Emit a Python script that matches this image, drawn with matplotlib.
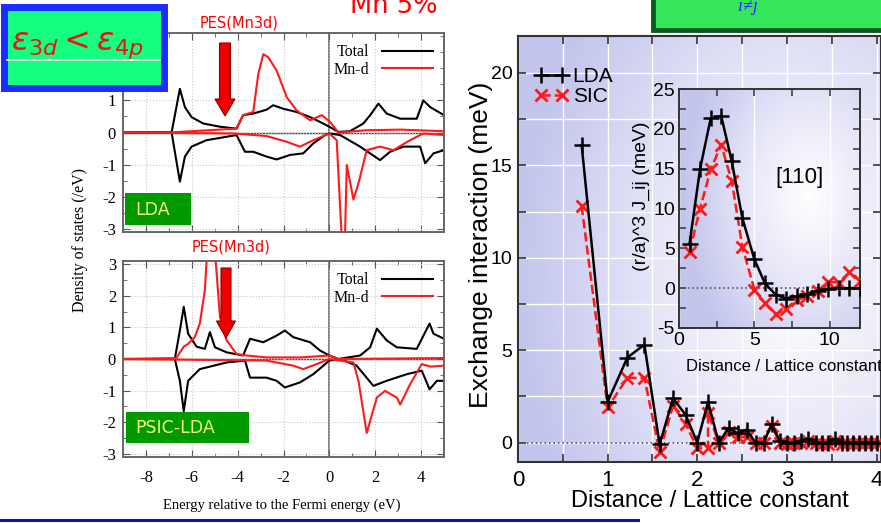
import numpy as np
import matplotlib.pyplot as plt
from matplotlib.patches import Rectangle, FancyArrow
from matplotlib.colors import LinearSegmentedColormap
from matplotlib.ticker import MultipleLocator

plt.rcParams['axes.unicode_minus'] = False

# ---------------- DOS, LDA panel (energy eV, DOS /eV) ----------------
lda_tot_up_e = [-9, -6.88, -6.52, -6.30, -6.01, -5.50, -4.77, -4.05, -3.76, -3.32, -2.74, -2.45, -2.01,
                -1.43, -0.84, -0.41, 0.0, 0.39, 0.90, 1.48, 1.78, 2.14, 2.50, 3.09, 3.81, 4.10, 4.40, 5.0]
lda_tot_up = [0, 0, 1.36, 0.79, 0.48, 0.28, 0.18, 0.12, 0.54, 0.59, 0.71, 0.85, 0.74,
              0.64, 0.48, 0.33, 0.18, 0.02, 0.04, 0.28, 0.54, 0.90, 0.59, 0.43, 0.43, 1.0, 0.79, 0.54]
lda_tot_dn_e = [-9, -6.88, -6.52, -6.30, -6.01, -5.36, -4.05, -3.68, -3.32, -2.74, -2.30, -1.72, -1.14,
                -0.70, -0.19, 0.0, 0.47, 1.34, 2.21, 2.65, 3.23, 3.96, 4.18, 4.54, 5.0]
lda_tot_dn = [0, 0, -1.53, -0.75, -0.44, -0.24, -0.08, -0.60, -0.60, -0.75, -0.84, -0.70, -0.65,
              -0.34, -0.08, -0.03, -0.08, -0.44, -0.86, -0.60, -0.44, -0.44, -0.96, -0.65, -0.55]
lda_mnd_up_e = [-9, -6.9, -6.5, -4.05, -3.76, -3.32, -3.10, -2.88, -2.66, -2.30, -1.86, -1.43, -0.84,
                -0.33, 0.03, 0.39, 1.63, 3.09, 5.0]
lda_mnd_up = [0, 0, 0.02, 0.12, 0.54, 0.64, 1.82, 2.44, 2.34, 1.93, 1.10, 0.69, 0.38,
              0.54, 0.33, 0.0, 0.07, 0.09, 0.04]
lda_mnd_dn_e = [-9, -4.19, -2.74, -1.86, -1.28, -0.70, 0.0, 0.32, 0.54, 0.68, 0.76, 1.05, 1.27, 1.63,
                2.21, 2.79, 3.52, 4.10, 5.0]
lda_mnd_dn = [0, -0.03, -0.11, -0.29, -0.44, -0.24, -0.03, -0.24, -3.3, -3.3, -1.01, -2.09, -1.58, -0.55,
              -0.44, -0.55, -0.24, -0.03, -0.08]

# ---------------- DOS, PSIC-LDA panel ----------------
psic_tot_up_e = [-9, -6.74, -6.52, -6.35, -6.16, -5.79, -5.43, -5.21, -4.99, -4.48, -3.76, -3.46, -2.88,
                 -2.30, -1.94, -1.57, -0.84, -0.41, 0.0, 0.39, 1.34, 1.78, 2.07, 2.50, 2.94, 3.81, 4.37, 4.54, 5.0]
psic_tot_up = [0, 0, 0.90, 1.65, 0.80, 0.39, 0.32, 0.85, 0.37, 0.21, 0.11, 0.64, 0.53,
               0.74, 0.90, 0.69, 0.53, 0.27, 0.11, 0.0, 0.11, 0.37, 0.96, 0.59, 0.37, 0.32, 1.12, 0.80, 0.64]
psic_tot_dn_e = [-9, -6.74, -6.52, -6.35, -6.16, -5.65, -4.48, -3.68, -3.46, -2.74, -2.30, -1.94, -1.28,
                 -0.70, 0.0, 0.47, 1.19, 1.92, 2.50, 3.38, 4.03, 4.37, 4.69, 5.0]
psic_tot_dn = [0, 0, -0.69, -1.65, -0.69, -0.32, -0.11, -0.05, -0.59, -0.59, -0.69, -0.90, -0.74,
               -0.48, -0.05, 0.0, -0.21, -0.85, -0.69, -0.48, -0.37, -0.96, -0.69, -0.69]
psic_mnd_up_e = [-9, -6.67, -6.35, -6.16, -5.87, -5.65, -5.43, -5.33, -4.99, -4.77, -4.48, -4.05, -3.61,
                 -2.74, -1.28, 0.0, 0.39, 5.0]
psic_mnd_up = [0, 0.03, 0.39, 0.48, 0.69, 1.12, 2.18, 3.4, 3.4, 1.33, 0.59, 0.16, 0.11,
               0.05, 0.05, 0.11, 0.0, 0.03]
psic_mnd_dn_e = [-9, -2.74, -1.57, -1.14, -0.55, 0.0, 1.05, 1.27, 1.63, 2.07, 2.43, 2.94, 3.09, 3.52,
                 4.03, 4.40, 5.0]
psic_mnd_dn = [0, -0.05, -0.21, -0.32, -0.16, 0.0, -0.11, -0.69, -2.34, -1.22, -1.01, -1.22, -1.44, -0.80,
               -0.16, -0.24, -0.21]

# ---------------- exchange interaction vs distance ----------------
dist_lda = [0.71, 1.0, 1.22, 1.41, 1.58, 1.73, 1.87, 2.0, 2.12, 2.24, 2.35, 2.45, 2.55, 2.65, 2.74, 2.83,
            2.92, 3.0, 3.08, 3.16, 3.24, 3.32, 3.39, 3.46, 3.54, 3.61, 3.67, 3.74, 3.81, 3.87, 3.94, 4.0]
j_lda = [16.1, 2.2, 4.6, 5.3, -0.1, 2.4, 1.5, 0.0, 2.2, 0.0, 0.8, 0.5, 0.7, 0.0, 0.0, 1.0,
         0.1, 0.0, 0.0, 0.1, 0.2, 0.0, 0.0, 0.0, 0.2, 0.0, 0.0, 0.0, 0.0, 0.0, 0.0, 0.0]
dist_sic = [0.71, 1.0, 1.22, 1.41, 1.58, 1.73, 1.87, 2.0, 2.12, 2.12, 2.24, 2.35, 2.45, 2.55, 2.65, 2.74,
            2.83, 2.92, 3.0, 3.08, 3.16, 3.24, 3.32, 3.39, 3.46, 3.54, 3.61, 3.67, 3.74, 3.81, 3.87, 3.94, 4.0]
j_sic = [12.8, 1.9, 3.5, 3.5, -0.5, 2.0, 1.0, -0.3, -0.3, 1.6, 0.0, 0.6, 0.3, 0.3, 0.0, 0.0,
         0.9, 0.0, -0.1, 0.0, 0.0, 0.1, 0.0, -0.1, -0.1, 0.1, -0.1, 0.0, -0.1, 0.0, 0.0, 0.0, 0.0]

# inset: (r/a)^3 J_ij along [110]
dist_110 = [0.7, 1.4, 2.1, 2.8, 3.5, 4.2, 5.0, 5.7, 6.4, 7.1, 7.8, 8.5, 9.2, 9.9, 10.6, 11.3, 12.0]
jr3_lda = [5.6, 15.0, 21.3, 21.6, 15.9, 8.8, 3.6, 0.6, -0.8, -1.3, -1.0, -0.7, -0.3, -0.1, 0.0, 0.0, 0.0]
jr3_sic = [4.6, 10.0, 14.9, 18.0, 13.4, 5.2, -0.2, -1.9, -3.3, -2.6, -1.5, -1.0, -0.3, 0.8, 0.7, 2.0, 0.9]

W, H = 881, 523
fig = plt.figure(figsize=(W / 100, H / 100), dpi=100)

def px(l, t, r, b):
    return [l / W, 1 - b / H, (r - l) / W, (b - t) / H]

red = '#ff1a1a'

def style_dos(ax, labels):
    ax.set_xlim(-9, 5)
    ax.set_ylim(-3.1, 3.1)
    ax.xaxis.set_major_locator(MultipleLocator(2))
    ax.xaxis.set_minor_locator(MultipleLocator(1))
    ax.yaxis.set_major_locator(MultipleLocator(1))
    ax.yaxis.set_minor_locator(MultipleLocator(0.5))
    ax.grid(True, which='major', color='#c8c8c8', ls=':', lw=0.8)
    ax.tick_params(which='both', direction='in', top=True, right=True, color='#555555',
                   labelsize=12, labelbottom=labels, pad=5)
    ax.tick_params(axis='x', pad=9)
    ax.tick_params(which='major', length=5)
    ax.tick_params(which='minor', length=3)
    for s in ax.spines.values():
        s.set_color('#666666')
        s.set_linewidth(1.4)
    for t in ax.get_xticklabels() + ax.get_yticklabels():
        t.set_family('Liberation Serif')
    ax.axvline(0, color='#777777', lw=1.3, zorder=1)
    ax.axhline(0, color='#444444', lw=1.0, zorder=1)

ax1 = fig.add_axes(px(123, 33, 444, 232))
ax1.plot(lda_tot_up_e, lda_tot_up, color='black', lw=1.5, label='Total')
ax1.plot(lda_tot_dn_e, lda_tot_dn, color='black', lw=1.5)
ax1.plot(lda_mnd_up_e, lda_mnd_up, color=red, lw=1.5, label='Mn-d')
ax1.plot(lda_mnd_dn_e, lda_mnd_dn, color=red, lw=1.5)
style_dos(ax1, False)
# labels 2 and 3 sit under the title box on the slide
ax1.set_yticks([-3, -2, -1, 0, 1])
ax1.yaxis.set_minor_locator(MultipleLocator(0.5))
for t in ax1.get_yticklabels():
    t.set_family('Liberation Serif')
ax1.tick_params(axis='y', which='major', right=True)
ax1.legend(loc='upper right', frameon=False, markerfirst=False, handlelength=3.2,
           prop={'family': 'Liberation Serif', 'size': 11.5}, labelspacing=0.1,
           borderaxespad=0.3, handletextpad=0.8)

ax2 = fig.add_axes(px(123, 261, 444, 457))
ax2.plot(psic_tot_up_e, psic_tot_up, color='black', lw=1.5, label='Total')
ax2.plot(psic_tot_dn_e, psic_tot_dn, color='black', lw=1.5)
ax2.plot(psic_mnd_up_e, psic_mnd_up, color=red, lw=1.5, label='Mn-d')
ax2.plot(psic_mnd_dn_e, psic_mnd_dn, color=red, lw=1.5)
style_dos(ax2, True)
ax2.legend(loc='upper right', frameon=False, markerfirst=False, handlelength=3.2,
           prop={'family': 'Liberation Serif', 'size': 11.5}, labelspacing=0.1,
           borderaxespad=0.3, handletextpad=0.8)

fig.text(80 / W, 1 - 240 / H, 'Density of states (/eV)', rotation=90, ha='center', va='center',
         family='Liberation Serif', fontsize=11.5)
fig.text(282 / W, 1 - 505 / H, 'Energy relative to the Fermi energy (eV)', ha='center', va='center',
         family='Liberation Serif', fontsize=10.5)

# lavender gradient background
cmap = LinearSegmentedColormap.from_list('lav', ['#ffffff', '#e6e6f8', '#c3c5ec'])

def gradient_bg(ax, cx, cy, rx, ry):
    yy, xx = np.mgrid[0:1:200j, 0:1:200j]
    r = np.sqrt(((xx - cx) / rx) ** 2 + ((yy - cy) / ry) ** 2)
    ax.imshow(np.clip(r, 0, 1), extent=[0, 1, 0, 1], transform=ax.transAxes, origin='lower',
              cmap=cmap, vmin=0, vmax=1, aspect='auto', zorder=0, interpolation='bilinear')

sans = 'Liberation Sans'

ax3 = fig.add_axes(px(518, 36, 881, 462))
gradient_bg(ax3, 0.75, 0.45, 0.75, 0.9)
ax3.axhline(0, color='#555555', ls=':', lw=1.2, zorder=2)
ax3.plot(dist_sic, j_sic, color=red, ls='--', lw=1.8, marker='x', ms=8, mew=2, label='SIC', zorder=3)
ax3.plot(dist_lda, j_lda, color='black', lw=1.8, marker='+', ms=11, mew=1.8, label='LDA', zorder=4)
ax3.set_xlim(0, 4.05)
ax3.set_ylim(-1.05, 22)
ax3.xaxis.set_major_locator(MultipleLocator(1))
ax3.xaxis.set_minor_locator(MultipleLocator(0.5))
ax3.yaxis.set_major_locator(MultipleLocator(5))
ax3.yaxis.set_minor_locator(MultipleLocator(2.5))
ax3.grid(True, which='both', color='white', lw=1.0, zorder=1)
ax3.set_axisbelow(True)
ax3.tick_params(which='both', direction='in', top=True, right=True, color='#333333', length=6, width=1.2)
ax3.tick_params(axis='x', labelsize=16, pad=6)
ax3.tick_params(axis='y', labelsize=14, pad=4)
for t in ax3.get_xticklabels() + ax3.get_yticklabels():
    t.set_family(sans)
for s in ax3.spines.values():
    s.set_color('#333333')
    s.set_linewidth(1.5)
ax3.set_ylabel('Exchange interaction (meV)', family=sans, fontsize=19)
ax3.yaxis.set_label_coords(-0.07, 0.51)
ax3.set_xlabel('Distance / Lattice constant', family=sans, fontsize=17)
ax3.xaxis.set_label_coords(0.529, -0.065)
h, l = ax3.get_legend_handles_labels()
leg = ax3.legend(h[::-1], l[::-1], loc='upper left', bbox_to_anchor=(0.033, 0.939), borderaxespad=0,
                 numpoints=2, handlelength=1.6, handletextpad=0.2, borderpad=0.25, labelspacing=0.05,
                 fancybox=False, edgecolor='black', framealpha=0.0, prop={'family': sans, 'size': 15})
leg.get_frame().set_linewidth(1.4)

ax4 = fig.add_axes(px(679, 89, 860, 328))
gradient_bg(ax4, 0.72, 0.55, 0.7, 0.8)
ax4.axhline(0, color='#555555', ls=':', lw=1.2, zorder=2)
ax4.plot(dist_110, jr3_sic, color=red, ls='--', lw=1.8, marker='x', ms=8, mew=2, zorder=3)
ax4.plot(dist_110, jr3_lda, color='black', lw=1.8, marker='+', ms=11, mew=1.8, zorder=4)
ax4.set_xlim(0, 12)
ax4.set_ylim(-5, 25)
ax4.xaxis.set_major_locator(MultipleLocator(5))
ax4.xaxis.set_minor_locator(MultipleLocator(2.5))
ax4.yaxis.set_major_locator(MultipleLocator(5))
ax4.yaxis.set_minor_locator(MultipleLocator(2.5))
ax4.grid(True, which='major', axis='x', color='white', lw=1.0, zorder=1)
ax4.tick_params(which='both', direction='in', top=True, right=True, color='#333333', length=5, width=1.1,
                labelsize=14, pad=3)
for t in ax4.get_xticklabels() + ax4.get_yticklabels():
    t.set_family(sans)
for s in ax4.spines.values():
    s.set_color('#333333')
    s.set_linewidth(1.4)
ax4.set_ylabel('(r/a)^3 J_ij (meV)', family=sans, fontsize=14)
ax4.yaxis.set_label_coords(-0.16, 0.55)
ax4.set_xlabel('Distance / Lattice constants', family=sans, fontsize=12)
ax4.xaxis.set_label_coords(0.6, -0.13)
ax4.text(8.0, 13.9, '[110]', ha='center', va='center', family=sans, fontsize=16)

# ---------------- slide decorations (pixel coordinates) ----------------
ov = fig.add_axes([0, 0, 1, 1], zorder=20)
ov.set_xlim(0, W)
ov.set_ylim(H, 0)
ov.axis('off')

ov.add_patch(Rectangle((3.5, 6.5), 160, 81, facecolor='#14ff80', edgecolor='#1a2cff', lw=5))
ov.plot([7, 160], [60, 60], color='white', lw=1.2)
ov.text(11, 50, r'$\varepsilon_{3d} < \varepsilon_{4p}$', color='#ee1111', fontsize=23, va='baseline')

ov.add_patch(Rectangle((653, -20), 240, 50, facecolor='#36e65a', edgecolor='#0a5a22', lw=3.5))
ov.text(748, 11, 'i≠j', color='#2020ff', fontsize=13, style='italic', ha='center', va='baseline',
        family='Liberation Serif')

ov.text(350, 13, 'Mn 5%', color='#ff0000', fontsize=18.5, va='baseline', family='DejaVu Sans')
ov.text(239, 23, 'PES(Mn3d)', color='#ff0000', fontsize=10.5, ha='center', va='center', family='DejaVu Sans')
ov.text(231, 247, 'PES(Mn3d)', color='#ff0000', fontsize=10.5, ha='center', va='center', family='DejaVu Sans')

ov.add_patch(FancyArrow(225, 43, 0, 73, width=11, head_width=20, head_length=17, length_includes_head=True,
                        facecolor='#ee0000', edgecolor='#8a0000', lw=0.8))
ov.add_patch(FancyArrow(226, 268, 0, 70, width=10, head_width=19, head_length=17, length_includes_head=True,
                        facecolor='#ee0000', edgecolor='#8a0000', lw=0.8))

ov.add_patch(Rectangle((125, 193), 66, 32, facecolor='#009a00', edgecolor='none'))
ov.text(135, 210, 'LDA', color='#f4f47a', fontsize=12.5, va='center', family='DejaVu Sans')
ov.add_patch(Rectangle((126, 412), 123, 31, facecolor='#009a00', edgecolor='none'))
ov.text(135, 428, 'PSIC-LDA', color='#f4f47a', fontsize=12.5, va='center', family='DejaVu Sans')

ov.plot([0, 638], [520, 520], color='#1010b8', lw=2.2)

fig.savefig('out.png', dpi=100)
